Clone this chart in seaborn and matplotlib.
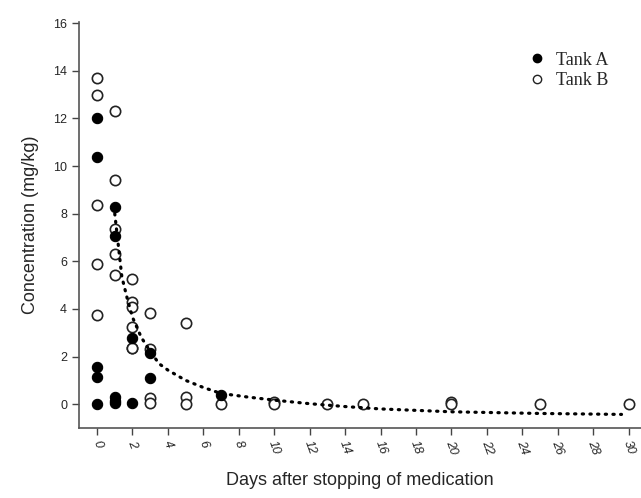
import matplotlib
matplotlib.use("Agg")
import matplotlib.pyplot as plt
import seaborn as sns
import pandas as pd
from matplotlib.lines import Line2D

# Tank A (filled circles)
tank_a_days = [0, 0, 0, 0, 0, 1, 1, 1, 1, 1, 2, 2, 3, 3, 7]
tank_a_conc = [12.0, 10.4, 1.57, 1.15, 0.02, 8.3, 7.05, 0.3, 0.12, 0.03, 2.8, 0.03, 2.13, 1.1, 0.38]

# Tank B (open circles)
tank_b_days = [0, 0, 0, 0, 0, 1, 1, 1, 1, 1, 2, 2, 2, 2, 2, 2,
               3, 3, 3, 3, 5, 5, 5, 7, 10, 10, 13, 15, 20, 20, 25, 30]
tank_b_conc = [13.7, 13.0, 8.36, 5.9, 3.74, 12.3, 9.4, 7.35, 6.3, 5.42, 5.27, 4.3, 4.08, 3.23, 2.37, 2.37,
               3.82, 2.3, 0.25, 0.03, 3.43, 0.3, 0.0, 0.0, 0.1, 0.0, 0.02, 0.02, 0.08, 0.02, 0.02, 0.02]

# fitted decay curve
fit_days = [1, 1.4, 1.7, 2, 2.5, 3, 3.5, 4, 5, 6, 7, 8.5, 10, 12, 14, 16, 20, 25, 29.6]
fit_conc = [8.0, 5.35, 4.45, 3.65, 2.8, 2.22, 1.7, 1.43, 1.0, 0.7, 0.45, 0.3, 0.17, 0.02,
            -0.1, -0.2, -0.32, -0.39, -0.43]

x_ticks = list(range(0, 31, 2))
y_ticks = list(range(0, 17, 2))

df_a = pd.DataFrame({"days": tank_a_days, "conc": tank_a_conc})
df_b = pd.DataFrame({"days": tank_b_days, "conc": tank_b_conc})
df_fit = pd.DataFrame({"days": fit_days, "conc": fit_conc})

sns.set_theme(style="ticks")
plt.rcParams["font.family"] = ["Liberation Sans", "DejaVu Sans"]

fig = plt.figure(figsize=(6.41, 4.98), dpi=100)
ax = fig.add_axes([0.1232, 0.1406, 0.8768, 0.8152])

sns.scatterplot(data=df_b, x="days", y="conc", ax=ax, marker="o", s=55,
                facecolor="white", edgecolor="#222222", linewidth=1.2, zorder=3)
sns.scatterplot(data=df_a, x="days", y="conc", ax=ax, marker="o", s=55,
                color="black", edgecolor="black", linewidth=0.8, zorder=4)
sns.lineplot(data=df_fit, x="days", y="conc", ax=ax, color="black",
             linewidth=2.3, linestyle=(0, (0.4, 2.0)), dash_capstyle="round",
             zorder=5, sort=False)

ax.set_xlim(-1.02, 30.7)
ax.set_ylim(-1.0, 16.05)
ax.set_xticks(x_ticks)
ax.set_yticks(y_ticks)
ax.set_xticklabels([str(t) for t in x_ticks], rotation=-70, fontsize=9,
                   ha="center", va="top", style="italic")
ax.tick_params(axis="y", labelsize=9, length=5, width=1, color="#444444")
ax.tick_params(axis="x", length=5, width=1, color="#444444", pad=3)

sns.despine(ax=ax)
for side in ["left", "bottom"]:
    ax.spines[side].set_color("#555555")
    ax.spines[side].set_linewidth(1.2)

ax.set_xlabel("Days after stopping of medication", fontsize=13, labelpad=11)
ax.set_ylabel("Concentration (mg/kg)", fontsize=13, labelpad=10)

handles = [
    Line2D([], [], marker="o", linestyle="none", color="black", markersize=6),
    Line2D([], [], marker="o", linestyle="none", markerfacecolor="white",
           markeredgecolor="#222222", markersize=6, markeredgewidth=1),
]
ax.legend(handles, ["Tank A", "Tank B"], loc="upper right", frameon=False,
          prop={"family": "Liberation Serif", "size": 13},
          handletextpad=0.05, labelspacing=0.2, borderaxespad=0,
          bbox_to_anchor=(0.955, 0.945))

fig.savefig("out.png", dpi=100)
